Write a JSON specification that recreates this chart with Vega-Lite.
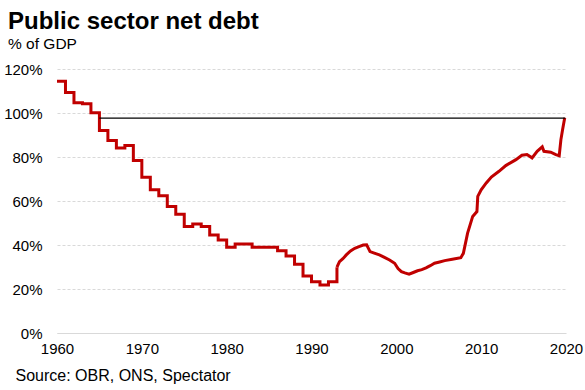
{
  "$schema": "https://vega.github.io/schema/vega-lite/v6.json",
  "width": 509,
  "height": 264,
  "autosize": "none",
  "padding": {"left": 57, "top": 69, "right": 19, "bottom": 57},
  "background": "white",
  "config": {"font": "Liberation Sans", "view": {"stroke": null}},
  "title": {
    "text": "Public sector net debt",
    "subtitle": "% of GDP",
    "anchor": "start",
    "frame": "group",
    "dx": -49,
    "offset": 10,
    "fontSize": 24,
    "fontWeight": "bold",
    "color": "black",
    "subtitleFontSize": 15.5,
    "subtitleColor": "black",
    "subtitlePadding": 3
  },
  "datasets": {
    "debt": [
      {"year": 1960, "value": 114.4, "seg": "annual"},
      {"year": 1961, "value": 109.3, "seg": "annual"},
      {"year": 1962, "value": 104.7, "seg": "annual"},
      {"year": 1963, "value": 104.2, "seg": "annual"},
      {"year": 1964, "value": 100.1, "seg": "annual"},
      {"year": 1965, "value": 92.1, "seg": "annual"},
      {"year": 1966, "value": 87.5, "seg": "annual"},
      {"year": 1967, "value": 84.1, "seg": "annual"},
      {"year": 1968, "value": 85.2, "seg": "annual"},
      {"year": 1969, "value": 78.4, "seg": "annual"},
      {"year": 1970, "value": 70.8, "seg": "annual"},
      {"year": 1971, "value": 65.1, "seg": "annual"},
      {"year": 1972, "value": 62.4, "seg": "annual"},
      {"year": 1973, "value": 57.5, "seg": "annual"},
      {"year": 1974, "value": 54.0, "seg": "annual"},
      {"year": 1975, "value": 48.4, "seg": "annual"},
      {"year": 1976, "value": 49.5, "seg": "annual"},
      {"year": 1977, "value": 48.4, "seg": "annual"},
      {"year": 1978, "value": 44.6, "seg": "annual"},
      {"year": 1979, "value": 42.3, "seg": "annual"},
      {"year": 1980, "value": 39.0, "seg": "annual"},
      {"year": 1981, "value": 40.5, "seg": "annual"},
      {"year": 1982, "value": 40.5, "seg": "annual"},
      {"year": 1983, "value": 39.0, "seg": "annual"},
      {"year": 1984, "value": 39.0, "seg": "annual"},
      {"year": 1985, "value": 39.0, "seg": "annual"},
      {"year": 1986, "value": 37.4, "seg": "annual"},
      {"year": 1987, "value": 35.0, "seg": "annual"},
      {"year": 1988, "value": 31.2, "seg": "annual"},
      {"year": 1989, "value": 25.9, "seg": "annual"},
      {"year": 1990, "value": 23.3, "seg": "annual"},
      {"year": 1991, "value": 21.8, "seg": "annual"},
      {"year": 1992, "value": 23.3, "seg": "annual"},
      {"year": 1993, "value": 29.9, "seg": "annual"},
      {"year": 1993.0, "value": 29.9, "seg": "monthly"},
      {"year": 1993.3, "value": 32.4, "seg": "monthly"},
      {"year": 1993.7, "value": 33.8, "seg": "monthly"},
      {"year": 1994.1, "value": 35.5, "seg": "monthly"},
      {"year": 1994.6, "value": 37.3, "seg": "monthly"},
      {"year": 1995.1, "value": 38.5, "seg": "monthly"},
      {"year": 1995.6, "value": 39.3, "seg": "monthly"},
      {"year": 1996.1, "value": 40.0, "seg": "monthly"},
      {"year": 1996.5, "value": 40.1, "seg": "monthly"},
      {"year": 1996.9, "value": 37.0, "seg": "monthly"},
      {"year": 1997.4, "value": 36.3, "seg": "monthly"},
      {"year": 1998.0, "value": 35.5, "seg": "monthly"},
      {"year": 1998.6, "value": 34.4, "seg": "monthly"},
      {"year": 1999.2, "value": 33.2, "seg": "monthly"},
      {"year": 1999.8, "value": 31.7, "seg": "monthly"},
      {"year": 2000.2, "value": 29.3, "seg": "monthly"},
      {"year": 2000.6, "value": 27.9, "seg": "monthly"},
      {"year": 2001.0, "value": 27.3, "seg": "monthly"},
      {"year": 2001.5, "value": 26.7, "seg": "monthly"},
      {"year": 2002.0, "value": 27.5, "seg": "monthly"},
      {"year": 2002.5, "value": 28.3, "seg": "monthly"},
      {"year": 2003.0, "value": 28.8, "seg": "monthly"},
      {"year": 2003.5, "value": 29.6, "seg": "monthly"},
      {"year": 2004.0, "value": 30.6, "seg": "monthly"},
      {"year": 2004.5, "value": 31.7, "seg": "monthly"},
      {"year": 2005.1, "value": 32.3, "seg": "monthly"},
      {"year": 2005.7, "value": 32.9, "seg": "monthly"},
      {"year": 2006.6, "value": 33.5, "seg": "monthly"},
      {"year": 2007.6, "value": 34.2, "seg": "monthly"},
      {"year": 2007.9, "value": 36.2, "seg": "monthly"},
      {"year": 2008.4, "value": 45.4, "seg": "monthly"},
      {"year": 2009.0, "value": 53.0, "seg": "monthly"},
      {"year": 2009.5, "value": 55.2, "seg": "monthly"},
      {"year": 2009.6, "value": 62.1, "seg": "monthly"},
      {"year": 2010.0, "value": 65.1, "seg": "monthly"},
      {"year": 2010.6, "value": 68.2, "seg": "monthly"},
      {"year": 2011.2, "value": 70.9, "seg": "monthly"},
      {"year": 2012.1, "value": 73.5, "seg": "monthly"},
      {"year": 2012.9, "value": 76.1, "seg": "monthly"},
      {"year": 2014.1, "value": 78.8, "seg": "monthly"},
      {"year": 2014.8, "value": 80.8, "seg": "monthly"},
      {"year": 2015.4, "value": 81.1, "seg": "monthly"},
      {"year": 2016.0, "value": 79.6, "seg": "monthly"},
      {"year": 2016.6, "value": 82.6, "seg": "monthly"},
      {"year": 2017.2, "value": 84.6, "seg": "monthly"},
      {"year": 2017.4, "value": 82.6, "seg": "monthly"},
      {"year": 2018.2, "value": 82.2, "seg": "monthly"},
      {"year": 2018.8, "value": 81.1, "seg": "monthly"},
      {"year": 2019.2, "value": 80.6, "seg": "monthly"},
      {"year": 2019.4, "value": 87.9, "seg": "monthly"},
      {"year": 2019.6, "value": 92.5, "seg": "monthly"},
      {"year": 2019.85, "value": 97.8, "seg": "monthly"}
    ],
    "ref": [{"start": 1965, "end": 2019.9, "value": 97.7}]
  },
  "encoding": {
    "x": {
      "field": "year",
      "type": "quantitative",
      "scale": {"domain": [1960, 2020], "nice": false, "zero": false},
      "axis": {
        "values": [1960, 1970, 1980, 1990, 2000, 2010, 2020],
        "format": "d",
        "grid": false,
        "ticks": false,
        "domain": true,
        "domainColor": "#d9d9d9",
        "domainWidth": 1,
        "labelFontSize": 15,
        "labelColor": "black",
        "labelPadding": 8,
        "labelFlush": false,
        "title": "Source: OBR, ONS, Spectator",
        "titleFontSize": 16,
        "titleFontWeight": "normal",
        "titleColor": "black",
        "titleAnchor": null,
        "titleAlign": "left",
        "titleBaseline": "alphabetic",
        "titleX": -42,
        "titleY": 47
      }
    },
    "y": {
      "field": "value",
      "type": "quantitative",
      "scale": {"domain": [0, 120], "nice": false},
      "axis": {
        "values": [0, 20, 40, 60, 80, 100, 120],
        "labelExpr": "datum.value + '%'",
        "grid": true,
        "gridColor": "#d9d9d9",
        "gridDash": [3, 2],
        "gridWidth": 1,
        "ticks": false,
        "domain": false,
        "labelFontSize": 15,
        "labelColor": "black",
        "labelPadding": 15,
        "title": null
      }
    }
  },
  "layer": [
    {
      "data": {"name": "debt"},
      "transform": [{"filter": "datum.seg === 'annual'"}],
      "mark": {"type": "line", "interpolate": "step-after", "color": "#C00000", "strokeWidth": 3, "strokeJoin": "miter"}
    },
    {
      "data": {"name": "debt"},
      "transform": [{"filter": "datum.seg === 'monthly'"}],
      "mark": {"type": "line", "color": "#C00000", "strokeWidth": 3}
    },
    {
      "data": {"name": "ref"},
      "mark": {"type": "rule", "color": "black", "strokeWidth": 1.2},
      "encoding": {
        "x": {"field": "start", "type": "quantitative"},
        "x2": {"field": "end"},
        "y": {"field": "value", "type": "quantitative"}
      }
    }
  ]
}
